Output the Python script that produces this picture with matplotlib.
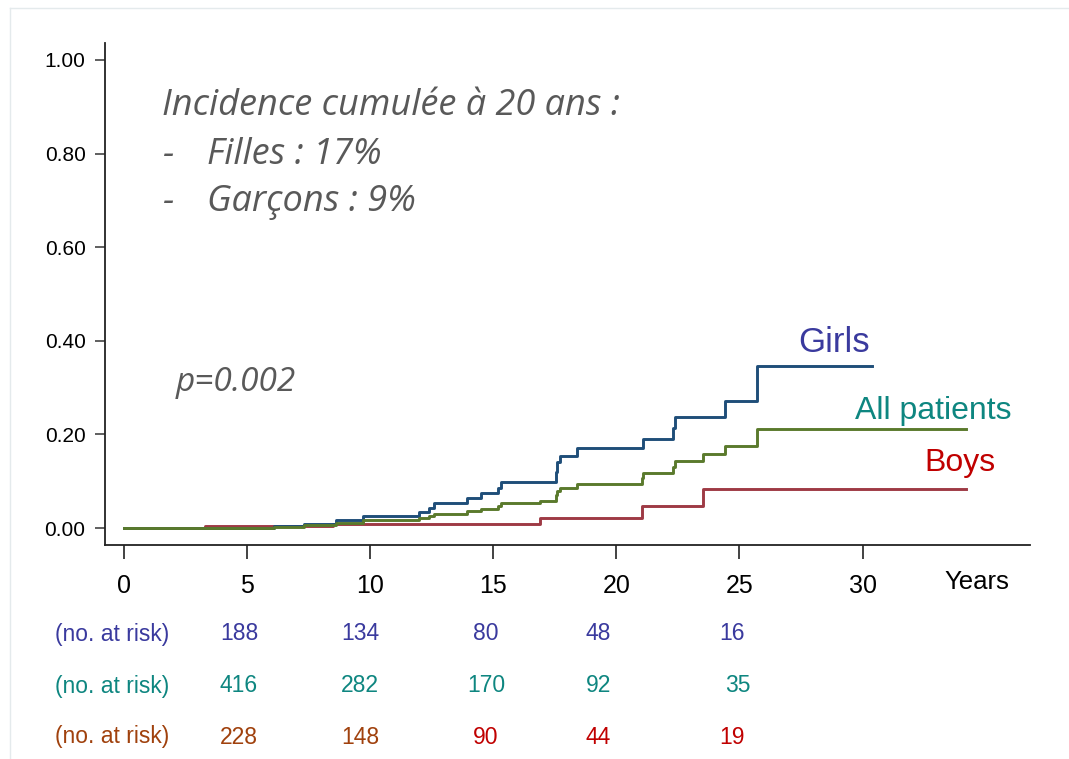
import matplotlib.pyplot as plt
from matplotlib.lines import Line2D
from matplotlib.transforms import blended_transform_factory

# Cumulative incidence step curves (time in years, cumulative incidence)
girls_t = [0, 6.1, 7.3, 8.6, 9.7, 12.0, 12.4, 12.6, 13.95, 14.5, 15.2, 15.3,
           17.55, 17.6, 17.7, 18.4, 21.1, 22.3, 22.4, 24.4, 25.7, 30.4]
girls_v = [0, 0.004, 0.009, 0.017, 0.026, 0.034, 0.043, 0.053, 0.064, 0.075, 0.085, 0.098,
           0.12, 0.141, 0.154, 0.171, 0.19, 0.214, 0.237, 0.271, 0.346, 0.346]

all_t = [0, 6.1, 7.3, 8.6, 9.7, 12.0, 12.4, 12.6, 13.95, 14.5, 15.2, 15.3, 16.9,
         17.55, 17.6, 17.7, 18.4, 21.05, 21.1, 22.3, 22.4, 23.5, 24.4, 25.7, 34.2]
all_v = [0, 0.003, 0.006, 0.011, 0.017, 0.021, 0.026, 0.030, 0.036, 0.040, 0.047, 0.053, 0.058,
         0.07, 0.079, 0.085, 0.094, 0.106, 0.117, 0.13, 0.143, 0.158, 0.176, 0.211, 0.211]

boys_t = [0, 3.3, 8.5, 16.9, 21.05, 23.5, 34.2]
boys_v = [0, 0.004, 0.009, 0.022, 0.047, 0.083, 0.083]

# Number at risk table
risk_times = [5, 10, 15, 20, 25]
risk_girls = [188, 134, 80, 48, 16]
risk_all = [416, 282, 170, 92, 35]
risk_boys = [228, 148, 90, 44, 19]

x_ticks = [0, 5, 10, 15, 20, 25, 30]
y_ticks = [0.0, 0.2, 0.4, 0.6, 0.8, 1.0]

c_girls = '#1f4e79'
c_all = '#5a7a2c'
c_boys = '#9e3a45'
t_girls = '#3a3a9e'
t_all = '#0e8680'
t_boys = '#c00000'
t_brown = '#a0410d'
gray = '#595959'
arial = 'Liberation Sans'

fig = plt.figure(figsize=(10.69, 7.59), dpi=100)
ax = fig.add_axes([0.0982, 0.282, 0.8653, 0.6613])

ax.step(boys_t, boys_v, where='post', color=c_boys, lw=2.1)
ax.step(girls_t, girls_v, where='post', color=c_girls, lw=2.1)
ax.step(all_t, all_v, where='post', color=c_all, lw=2.1)

ax.set_xlim(-0.77, 36.8)
ax.set_ylim(-0.036, 1.036)
ax.set_xticks(x_ticks)
ax.set_xticklabels([str(t) for t in x_ticks], fontsize=18, family=arial)
ax.set_yticks(y_ticks)
ax.set_yticklabels(['%.2f' % v for v in y_ticks], fontsize=15, family=arial)
ax.tick_params(axis='x', length=10, width=1.2, pad=11, color='#222222')
ax.tick_params(axis='y', length=7, width=1.2, pad=7, color='#444444')
for s in ['top', 'right']:
    ax.spines[s].set_visible(False)
for s in ['left', 'bottom']:
    ax.spines[s].set_linewidth(1.3)
    ax.spines[s].set_color('#222222')

xt = blended_transform_factory(ax.transData, fig.transFigure)
fig.text(977 / 1069, 1 - 582 / 759, 'Years', fontsize=18.5, family=arial,
         ha='center', va='center')

# Curve labels
lab = dict(fontsize=23, family=arial, ha='center', va='center')
fig.text(834 / 1069, 1 - 343 / 759, 'Girls', color=t_girls, **dict(lab, fontsize=25))
fig.text(933 / 1069, 1 - 411 / 759, 'All patients', color=t_all, **lab)
fig.text(960 / 1069, 1 - 463 / 759, 'Boys', color=t_boys, **lab)

# Annotations
ann = dict(fontsize=26, family='Open Sans', style='italic', color=gray, va='center')
fig.text(162 / 1069, 1 - 106 / 759, 'Incidence cumulée à 20 ans :', **ann)
fig.text(162 / 1069, 1 - 155 / 759, '-', **ann)
fig.text(207 / 1069, 1 - 155 / 759, 'Filles : 17%', **ann)
fig.text(162 / 1069, 1 - 202 / 759, '-', **ann)
fig.text(207 / 1069, 1 - 202 / 759, 'Garçons : 9%', **ann)
fig.text(176 / 1069, 1 - 382 / 759, 'p=0.002', **dict(ann, fontsize=24))

# Number at risk rows
nudge = [-0.33, -0.4, -0.3, -0.73, -0.3]
rows = [(risk_girls, 634, [t_girls] * 5, t_girls, [0] * 5),
        (risk_all, 686, [t_all] * 5, t_all, [0, 0, 0, 0, 0.25]),
        (risk_boys, 737, [t_brown, t_brown, t_boys, t_boys, t_boys], t_brown, [0] * 5)]
for counts, ypix, cols, head_col, extra in rows:
    yf = 1 - ypix / 759
    fig.text(112 / 1069, yf, '(no. at risk)', color=head_col, fontsize=16.5,
             family=arial, ha='center', va='center')
    for t, n, c, d, e in zip(risk_times, counts, cols, nudge, extra):
        ax.text(t + d + e, yf, str(n), transform=xt, color=c, fontsize=16.5,
                family=arial, ha='center', va='center', clip_on=False)

# Light frame around the figure
fc = '#e4eaec'
fig.add_artist(Line2D([10 / 1069, 1], [1 - 8 / 759, 1 - 8 / 759], color=fc, lw=1,
                      transform=fig.transFigure))
fig.add_artist(Line2D([10 / 1069, 10 / 1069], [0, 1 - 8 / 759], color=fc, lw=1,
                      transform=fig.transFigure))

fig.savefig('out.png', dpi=100)
